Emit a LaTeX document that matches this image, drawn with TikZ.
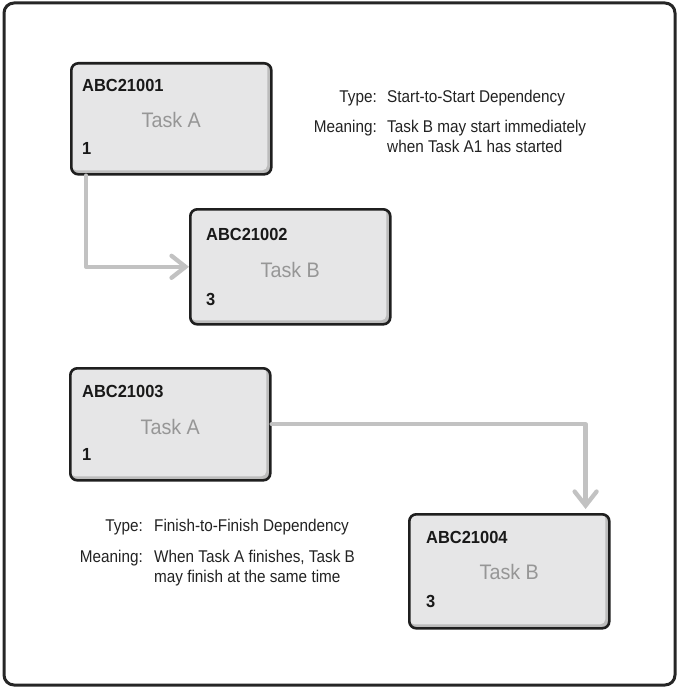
\documentclass[tikz,border=0pt]{standalone}
\usepackage{fontspec}
\setmainfont{Liberation Sans}
\newfontfamily\labelfont{Liberation Sans}[FakeStretch=0.9]
\newfontfamily\tightfont{Liberation Sans}[FakeStretch=0.94]
\usetikzlibrary{arrows.meta}
\definecolor{framecol}{HTML}{262626}
\definecolor{boxgray}{HTML}{E6E6E7}
\definecolor{boxshade}{HTML}{BCBCBC}
\definecolor{taskcol}{HTML}{969696}
\definecolor{linkcol}{HTML}{C2C2C2}
\definecolor{textcol}{HTML}{222222}
\begin{document}
\begin{tikzpicture}[x=1pt,y=-1pt,
  frame/.style={draw=framecol, line width=3pt, rounded corners=10pt},
  taskbox/.style={draw=black!88, line width=2.6pt, rounded corners=7pt,
    fill=boxgray, inner sep=0pt, minimum width=200pt, anchor=north west,
    path picture={
      \fill[boxshade] (path picture bounding box.south west) rectangle (path picture bounding box.north east);
      \fill[boxgray, rounded corners=5pt]
        ([shift={(0pt,1pt)}]path picture bounding box.north west) rectangle
        ([shift={(-4pt,4pt)}]path picture bounding box.south east);
    }},
  idtext/.style={anchor=base west, inner sep=0pt, font=\tightfont\fontsize{17.5}{20}\selectfont\bfseries, text=black!90},
  tasktext/.style={anchor=base, inner sep=0pt, font=\tightfont\fontsize{21}{25}\selectfont, text=taskcol},
  numtext/.style={anchor=base west, inner sep=0pt, font=\tightfont\fontsize{17.5}{20}\selectfont\bfseries, text=black!90},
  keytext/.style={anchor=base east, inner sep=0pt, font=\labelfont\fontsize{17}{20}\selectfont, text=textcol},
  valtext/.style={anchor=base west, inner sep=0pt, font=\labelfont\fontsize{17}{20}\selectfont, text=textcol},
  link/.style={draw=linkcol, line width=4.3pt, line cap=round, line join=round,
    -{Straight Barb[length=14pt, width=22pt, line cap=round]}}
]
\useasboundingbox (0,0) rectangle (678,687);
\draw[frame] (4,3) rectangle (675,685);

% Start-to-Start pair
\node[taskbox, minimum height=111pt] (b1) at (70,62) {};
\node[idtext] (b1id) at ([shift={(12pt,-30pt)}]b1.north west) {ABC21001};
\node[tasktext] (b1task) at ([shift={(0pt,-66pt)}]b1.north) {Task A};
\node[numtext] (b1num) at ([shift={(12pt,-93pt)}]b1.north west) {1};

\node[taskbox, minimum height=115pt] (b2) at (189,208) {};
\node[idtext] (b2id) at ([shift={(17pt,-32pt)}]b2.north west) {ABC21002};
\node[tasktext] (b2task) at ([shift={(0pt,-69pt)}]b2.north) {Task B};
\node[numtext] (b2num) at ([shift={(17pt,-97pt)}]b2.north west) {3};

\draw[link] ([xshift=16pt]b1.south west) |- (b2.west);

\node[keytext] (k1type) at (377,103) {Type:};
\node[valtext] (v1type) at (387,103) {Start-to-Start Dependency};
\node[keytext] (k1mean) at (377,133) {Meaning:};
\node[valtext] (v1mean) at (387,133) {Task B may start immediately};
\node[valtext] (v1mean2) at (387,153) {when Task A1 has started};

% Finish-to-Finish pair
\node[taskbox, minimum height=112pt] (b3) at (69,367) {};
\node[idtext] (b3id) at ([shift={(13pt,-30pt)}]b3.north west) {ABC21003};
\node[tasktext] (b3task) at ([shift={(0pt,-67pt)}]b3.north) {Task A};
\node[numtext] (b3num) at ([shift={(13pt,-93pt)}]b3.north west) {1};

\node[taskbox, minimum height=114pt] (b4) at (408,513) {};
\node[idtext] (b4id) at ([shift={(18pt,-30pt)}]b4.north west) {ABC21004};
\node[tasktext] (b4task) at ([shift={(0pt,-66pt)}]b4.north) {Task B};
\node[numtext] (b4num) at ([shift={(18pt,-94pt)}]b4.north west) {3};

\draw[link, shorten >=4pt] (b3.east) -| ([xshift=-25pt]b4.north east);

\node[keytext] (k2type) at (143,531) {Type:};
\node[valtext] (v2type) at (154,531) {Finish-to-Finish Dependency};
\node[keytext] (k2mean) at (143,562) {Meaning:};
\node[valtext] (v2mean) at (154,562) {When Task A finishes, Task B};
\node[valtext] (v2mean2) at (154,582) {may finish at the same time};
\end{tikzpicture}
\end{document}
